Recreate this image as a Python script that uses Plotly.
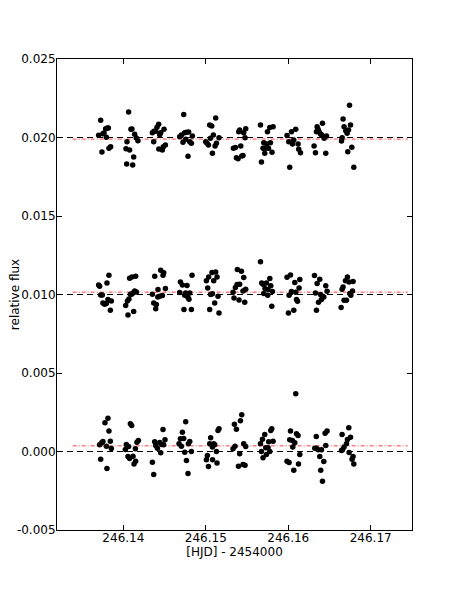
import plotly.graph_objects as go

# ---- data ----
t_top = [246.13700, 246.13725, 246.13740, 246.13752, 246.13765, 246.13785, 246.13794, 246.13806, 246.13818, 246.13825, 246.13846,
         246.14032, 246.14040, 246.14044, 246.14064, 246.14076, 246.14092, 246.14104, 246.14113, 246.14125, 246.14137, 246.14158, 246.14177,
         246.14352, 246.14368, 246.14371, 246.14392, 246.14408, 246.14428, 246.14430, 246.14441, 246.14453, 246.14473, 246.14485, 246.14493, 246.14510,
         246.14683, 246.14704, 246.14723, 246.14732, 246.14744, 246.14756, 246.14765, 246.14784, 246.14792, 246.14805, 246.14825, 246.14837,
         246.14999, 246.15015, 246.15032, 246.15047, 246.15056, 246.15072, 246.15080, 246.15092, 246.15112, 246.15120, 246.15129, 246.15160,
         246.15335, 246.15359, 246.15371, 246.15391, 246.15399, 246.15411, 246.15424, 246.15436, 246.15451, 246.15460, 246.15476, 246.15484,
         246.15663, 246.15675, 246.15694, 246.15703, 246.15715, 246.15723, 246.15739, 246.15748, 246.15760, 246.15776, 246.15784, 246.15803, 246.15816,
         246.15985, 246.16006, 246.16018, 246.16039, 246.16051, 246.16067, 246.16091, 246.16119, 246.16127, 246.16148,
         246.16313, 246.16330, 246.16342, 246.16350, 246.16362, 246.16374, 246.16391, 246.16407, 246.16415, 246.16435, 246.16455, 246.16464,
         246.16646, 246.16653, 246.16665, 246.16677, 246.16698, 246.16714, 246.16722, 246.16731, 246.16743, 246.16755, 246.16771, 246.16795]
f_top = [0.02014, 0.02110, 0.01908, 0.02024, 0.02029, 0.02056, 0.02001, 0.02061, 0.02061, 0.01931, 0.01941,
         0.01929, 0.01831, 0.01973, 0.02163, 0.01920, 0.02052, 0.02054, 0.01825, 0.01876, 0.02020, 0.01997, 0.01980,
         0.02031, 0.01973, 0.02040, 0.02040, 0.02065, 0.02084, 0.01927, 0.02018, 0.02031, 0.01920, 0.01941, 0.02052, 0.01952,
         0.02005, 0.02016, 0.01969, 0.02146, 0.02031, 0.01989, 0.02033, 0.01880, 0.02035, 0.01973, 0.01963, 0.02010,
         0.01973, 0.01963, 0.01952, 0.02080, 0.01995, 0.02073, 0.01899, 0.02016, 0.01946, 0.02124, 0.01963, 0.01999,
         0.01931, 0.01937, 0.01871, 0.01865, 0.02037, 0.02048, 0.01946, 0.01882, 0.01886, 0.02031, 0.01999, 0.02056,
         0.02080, 0.01844, 0.01931, 0.01967, 0.01899, 0.01931, 0.01959, 0.02037, 0.01931, 0.02063, 0.01967, 0.01906, 0.02069,
         0.02012, 0.01973, 0.01810, 0.02037, 0.01959, 0.01984, 0.02052, 0.01959, 0.01925, 0.01903,
         0.01946, 0.01903, 0.02037, 0.02069, 0.02052, 0.02037, 0.02022, 0.02016, 0.02091, 0.01995, 0.01899, 0.02010,
         0.01978, 0.01999, 0.02118, 0.02069, 0.02043, 0.02027, 0.01910, 0.02048, 0.02205, 0.02080, 0.01938, 0.01810]

t_mid = [246.13700, 246.13712, 246.13725, 246.13745, 246.13752, 246.13773, 246.13794, 246.13801, 246.13813, 246.13825, 246.13842, 246.13854,
         246.14028, 246.14049, 246.14056, 246.14068, 246.14076, 246.14085, 246.14100, 246.14104, 246.14117, 246.14125, 246.14137, 246.14149, 246.14158,
         246.14352, 246.14368, 246.14380, 246.14392, 246.14400, 246.14418, 246.14420, 246.14441, 246.14453, 246.14473, 246.14481, 246.14489, 246.14510,
         246.14683, 246.14692, 246.14716, 246.14735, 246.14744, 246.14756, 246.14772, 246.14784, 246.14796, 246.14805, 246.14825, 246.14833,
         246.15007, 246.15023, 246.15035, 246.15047, 246.15059, 246.15075, 246.15080, 246.15096, 246.15108, 246.15120, 246.15136, 246.15148, 246.15160,
         246.15330, 246.15342, 246.15359, 246.15379, 246.15383, 246.15403, 246.15411, 246.15432, 246.15451, 246.15460, 246.15472, 246.15484,
         246.15663, 246.15678, 246.15694, 246.15703, 246.15718, 246.15735, 246.15751, 246.15755, 246.15776, 246.15788, 246.15800, 246.15808,
         246.15985, 246.16002, 246.16010, 246.16027, 246.16039, 246.16067, 246.16079, 246.16091, 246.16100, 246.16112, 246.16131, 246.16140,
         246.16318, 246.16330, 246.16342, 246.16350, 246.16367, 246.16382, 246.16391, 246.16403, 246.16415, 246.16431, 246.16455, 246.16471,
         246.16641, 246.16653, 246.16665, 246.16677, 246.16694, 246.16706, 246.16718, 246.16738, 246.16746, 246.16759, 246.16779, 246.16786]
f_mid = [0.01061, 0.01053, 0.00997, 0.00997, 0.00946, 0.00938, 0.00942, 0.01074, 0.00968, 0.01123, 0.00900, 0.00959,
         0.00930, 0.00959, 0.00870, 0.00972, 0.01104, 0.01002, 0.01002, 0.01112, 0.01010, 0.00891, 0.01023, 0.01116, 0.01016,
         0.01002, 0.00946, 0.01116, 0.00910, 0.00936, 0.00984, 0.01032, 0.00989, 0.01155, 0.00993, 0.01123, 0.01138, 0.01038,
         0.01012, 0.01080, 0.01061, 0.00904, 0.00995, 0.01010, 0.01057, 0.00981, 0.00970, 0.01010, 0.00904, 0.01123,
         0.01087, 0.01042, 0.01112, 0.00904, 0.01000, 0.01140, 0.01004, 0.01087, 0.00946, 0.01144, 0.01112, 0.00989, 0.00882,
         0.01014, 0.00978, 0.01044, 0.01063, 0.01159, 0.00965, 0.01065, 0.01148, 0.01023, 0.01108, 0.00951, 0.01033,
         0.01208, 0.01074, 0.01065, 0.01006, 0.01038, 0.01074, 0.00995, 0.01032, 0.01102, 0.01055, 0.00925, 0.01019,
         0.01110, 0.00882, 0.00995, 0.01125, 0.01019, 0.00900, 0.01076, 0.01014, 0.00968, 0.00957, 0.01042, 0.01095,
         0.01121, 0.01010, 0.00900, 0.01070, 0.00951, 0.01097, 0.01000, 0.00968, 0.00989, 0.00984, 0.01055, 0.01021,
         0.00917, 0.01033, 0.01048, 0.00963, 0.01087, 0.00963, 0.01112, 0.01080, 0.01006, 0.00995, 0.01023, 0.01083]

t_bot = [246.13712, 246.13725, 246.13737, 246.13752, 246.13777, 246.13794, 246.13801, 246.13813, 246.13825, 246.13842, 246.13854,
         246.14024, 246.14036, 246.14056, 246.14064, 246.14076, 246.14085, 246.14101, 246.14117, 246.14129, 246.14146, 246.14149, 246.14165, 246.14182,
         246.14352, 246.14368, 246.14380, 246.14392, 246.14413, 246.14441, 246.14453, 246.14465, 246.14481, 246.14489, 246.14505,
         246.14675, 246.14692, 246.14704, 246.14716, 246.14732, 246.14744, 246.14756, 246.14765, 246.14784, 246.14789, 246.14805, 246.14825,
         246.15007, 246.15019, 246.15032, 246.15047, 246.15059, 246.15080, 246.15082, 246.15096, 246.15108, 246.15129, 246.15136, 246.15148, 246.15160,
         246.15330, 246.15347, 246.15354, 246.15371, 246.15396, 246.15411, 246.15420, 246.15436, 246.15451, 246.15460, 246.15476, 246.15484,
         246.15663, 246.15675, 246.15687, 246.15694, 246.15715, 246.15727, 246.15735, 246.15755, 246.15763, 246.15776, 246.15788, 246.15800, 246.15816,
         246.15985, 246.16010, 246.16018, 246.16027, 246.16051, 246.16055, 246.16067, 246.16079, 246.16091, 246.16100, 246.16119, 246.16124, 246.16140,
         246.16322, 246.16340, 246.16342, 246.16362, 246.16382, 246.16394, 246.16403, 246.16415, 246.16431, 246.16447, 246.16455, 246.16471,
         246.16646, 246.16653, 246.16658, 246.16677, 246.16706, 246.16718, 246.16734, 246.16738, 246.16755, 246.16774, 246.16786, 246.16795]
f_bot = [0.00043, -0.00049, 0.00055, 0.00064, 0.00183, 0.00034, -0.00108, 0.00212, 0.00130, 0.00066, 0.00019,
         0.00013, 0.00045, -0.00032, 0.00032, -0.00045, 0.00177, 0.00166, -0.00030, -0.00079, 0.00017, -0.00062, 0.00059, 0.00070,
         -0.00068, -0.00147, 0.00062, 0.00038, 0.00021, 0.00057, -0.00008, 0.00045, 0.00140, 0.00043, 0.00075,
         0.00049, 0.00081, 0.00034, 0.00123, 0.00083, -0.00004, 0.00189, -0.00057, -0.00140, 0.00049, 0.00064, 0.00000,
         -0.00053, -0.00026, -0.00096, 0.00049, 0.00087, 0.00028, -0.00053, 0.00049, 0.00043, 0.00000, -0.00074, 0.00134, 0.00145,
         0.00017, 0.00174, 0.00034, 0.00142, -0.00094, -0.00015, 0.00196, 0.00234, -0.00083, 0.00049, -0.00087, 0.00032,
         0.00049, 0.00000, 0.00078, -0.00040, 0.00108, 0.00024, -0.00019, 0.00024, 0.00062, 0.00000, 0.00134, 0.00145, 0.00066,
         -0.00062, -0.00070, 0.00075, 0.00130, 0.00070, 0.00028, -0.00119, 0.00055, 0.00368, 0.00113, 0.00102, -0.00079, -0.00019,
         0.00021, 0.00096, 0.00021, 0.00011, -0.00032, -0.00119, 0.00011, -0.00189, -0.00064, 0.00117, 0.00038, 0.00130,
         0.00006, 0.00108, 0.00011, 0.00028, 0.00049, 0.00077, 0.00151, -0.00006, 0.00091, -0.00049, -0.00032, -0.00079]

# reference levels (black dashed) and fitted levels (red dash-dot)
ref_levels = [0.020, 0.010, 0.000]
fit_levels = [0.0199, 0.01015, 0.00036]
x_range = [246.13195, 246.17501]
fit_span = [246.13385, 246.17450]

x_tickvals = [246.14, 246.15, 246.16, 246.17]
x_ticktext = ["246.14", "246.15", "246.16", "246.17"]
y_tickvals = [-0.005, 0.000, 0.005, 0.010, 0.015, 0.020, 0.025]
y_ticktext = ["-0.005", "0.000", "0.005", "0.010", "0.015", "0.020", "0.025"]

FONT = "DejaVu Sans"

fig = go.Figure()

for lv in ref_levels:
    fig.add_trace(go.Scatter(x=x_range, y=[lv, lv], mode="lines",
                             line=dict(color="black", width=1, dash="6px,4px"),
                             hoverinfo="skip", showlegend=False))
for lv in fit_levels:
    fig.add_trace(go.Scatter(x=fit_span, y=[lv, lv], mode="lines",
                             line=dict(color="rgba(255,0,0,0.75)", width=1, dash="4px,2px,1px,2px"),
                             hoverinfo="skip", showlegend=False))

for t, f in [(t_top, f_top), (t_mid, f_mid), (t_bot, f_bot)]:
    fig.add_trace(go.Scatter(x=t, y=f, mode="markers",
                             marker=dict(color="black", size=5.5, line=dict(width=0)),
                             showlegend=False))

# page body has an 8px default margin, so the figure is shrunk by 8px and margins shifted
fig.update_layout(
    width=450, height=581,
    margin=dict(l=49, r=46, t=51, b=59, autoexpand=False),
    paper_bgcolor="white", plot_bgcolor="white",
    font=dict(family=FONT, size=12, color="black"),
    showlegend=False,
)
fig.update_xaxes(
    range=x_range, tickvals=x_tickvals, ticktext=x_ticktext, automargin=False,
    showgrid=False, zeroline=False, showline=True, linecolor="black", linewidth=1,
    mirror="ticks", ticks="inside", ticklen=5, tickcolor="black", tickwidth=1,
    ticklabelstandoff=-3,
    title=dict(text="[HJD] - 2454000", font=dict(family=FONT, size=12), standoff=0),
)
fig.update_yaxes(
    range=[-0.005, 0.025], tickvals=y_tickvals, ticktext=y_ticktext, automargin=False,
    showgrid=False, zeroline=False, showline=True, linecolor="black", linewidth=1,
    mirror="ticks", ticks="inside", ticklen=5, tickcolor="black", tickwidth=1,
    ticklabelstandoff=-2,
    title=dict(text="relative flux", font=dict(family=FONT, size=12), standoff=10),
)

fig.write_html("out.html")
